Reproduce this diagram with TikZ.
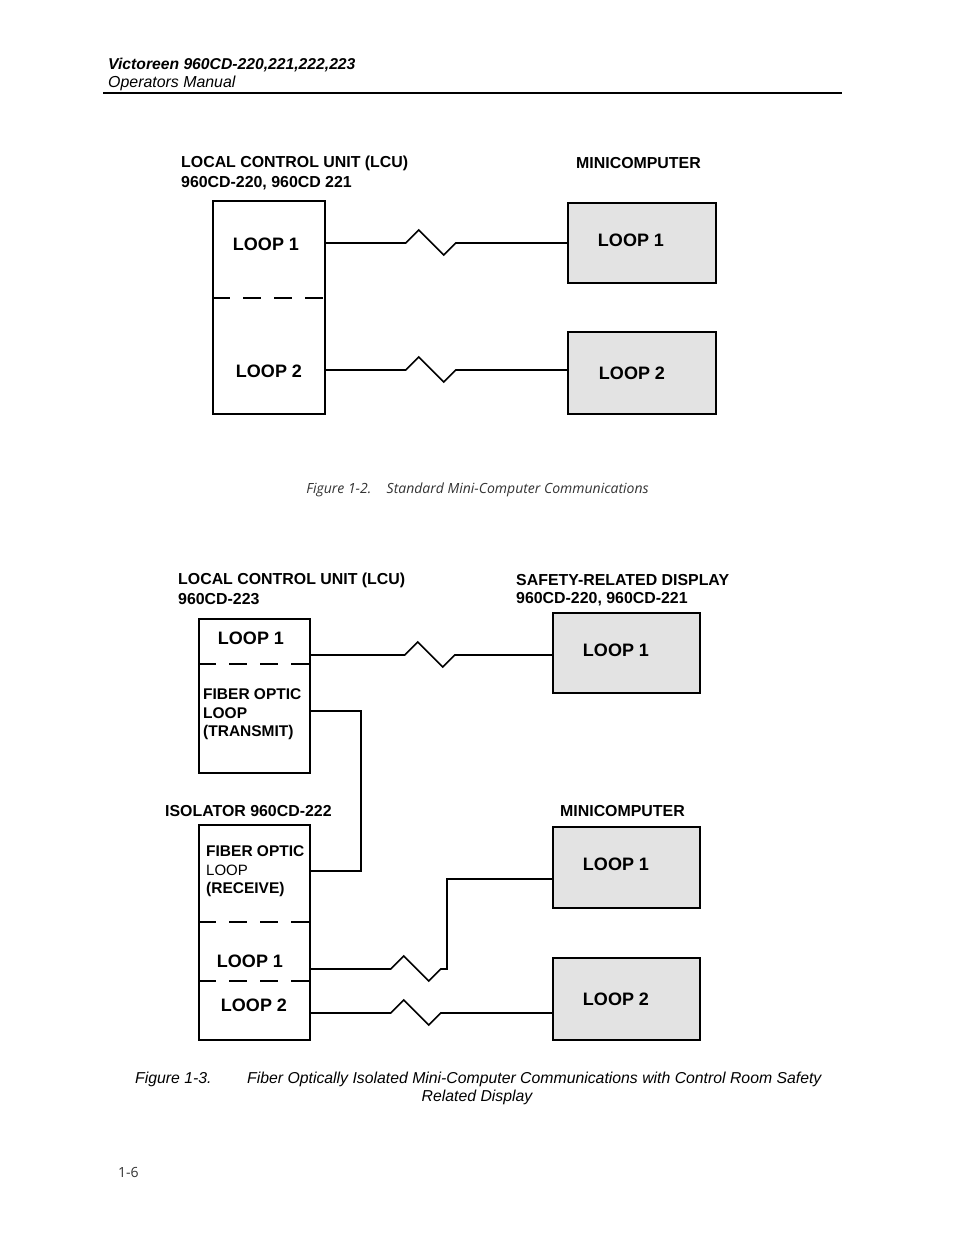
\documentclass[tikz,border=0pt]{standalone}
\usepackage{fontspec}
\setmainfont{Liberation Sans}
\newfontfamily\capfont{Open Sans}
\usetikzlibrary{calc}
\begin{document}
\begin{tikzpicture}[x=1pt,y=-1pt,
  box/.style={draw,line width=1.7pt,rectangle,inner sep=0pt},
  shade/.style={box,fill=black!11},
  wire/.style={line width=1.6pt,line join=miter},
  sep/.style={line width=1.6pt,dash pattern=on 18pt off 13pt},
  head/.style={font=\fontsize{15.9}{17}\selectfont\bfseries,anchor=west,inner sep=0pt},
  sub/.style={font=\fontsize{15.5}{17}\selectfont\bfseries,anchor=west,inner sep=0pt},
  loop/.style={font=\fontsize{18}{20}\selectfont\bfseries,inner sep=0pt},
]
\useasboundingbox (0,0) rectangle (954,1235);
\fill[white] (0,0) rectangle (954,1235);

% header
\node[anchor=west,inner sep=0pt,font=\fontsize{15.7}{17}\selectfont\bfseries\itshape] (hd1) at (108,65) {Victoreen 960CD-220,221,222,223};
\node[anchor=west,inner sep=0pt,font=\fontsize{15.9}{17}\selectfont\itshape] (hd2) at (108,83) {Operators Manual};
\draw[line width=1.2pt] (103,93) -- (842,93);

% ---------- Figure 1-2
\node[head] (t1) at (181,163) {LOCAL CONTROL UNIT (LCU)};
\node[head] (t2) at (181,183) {960CD-220, 960CD 221};
\node[head] (t3) at (576,163) {MINICOMPUTER};

\node[box,minimum width=112pt,minimum height=213pt] (lcuA) at (269,307.5) {};
\draw[sep] (lcuA.west |- 0,298) -- (lcuA.east |- 0,298);
\node[loop] (lcuA1) at (266,244) {LOOP 1};
\node[loop] (lcuA2) at (269,371) {LOOP 2};

\node[shade,minimum width=148pt,minimum height=80pt] (miniA1) at (642,243) {};
\node[loop] (miniA1t) at (631,240) {LOOP 1};
\node[shade,minimum width=148pt,minimum height=82pt] (miniA2) at (642,373) {};
\node[loop] (miniA2t) at (632,373) {LOOP 2};

\coordinate (a1) at (lcuA.east |- 0,243);
\coordinate (a2) at (lcuA.east |- 0,370);
\draw[wire] (a1) -- ++(80,0) -- ++(13,-13) -- ++(25,25) -- ++(12,-12) -- (miniA1.west);
\draw[wire] (a2) -- ++(80,0) -- ++(13,-13) -- ++(25,25) -- ++(12,-12) -- (miniA2.west |- a2);

\node[inner sep=0pt,text=black!80,font=\fontsize{14}{16}\selectfont\capfont\itshape] (cap1) at (477.5,490) {Figure 1-2.\hspace{1.1em}Standard Mini-Computer Communications};

% ---------- Figure 1-3
\node[head] (u1) at (178,580) {LOCAL CONTROL UNIT (LCU)};
\node[head] (u2) at (178,599) {960CD-223};
\node[head] (u3) at (516,580) {SAFETY-RELATED DISPLAY};
\node[head] (u4) at (516,599) {960CD-220, 960CD-221};

\node[box,minimum width=111pt,minimum height=154pt] (lcuB) at (254.5,696) {};
\draw[sep] (lcuB.west |- 0,664) -- (lcuB.east |- 0,664);
\node[loop] (lcuB1) at (251,638) {LOOP 1};
\node[sub] (fo1) at (203,694) {FIBER OPTIC};
\node[sub] (fo2) at (203,713) {LOOP};
\node[sub] (fo3) at (203,732) {(TRANSMIT)};

\node[shade,minimum width=147pt,minimum height=80pt] (safe) at (626.5,653) {};
\node[loop] (safet) at (616,650) {LOOP 1};

\coordinate (b1) at (lcuB.east |- 0,655);
\draw[wire] (b1) -- ++(94,0) -- ++(13,-13) -- ++(25,25) -- ++(12,-12) -- (safe.west |- b1);

\node[head] (iso) at (165,811) {ISOLATOR 960CD-222};
\node[head] (u5) at (560,811) {MINICOMPUTER};

\node[box,minimum width=111pt,minimum height=215pt] (isoB) at (254.5,932.5) {};
\draw[sep] (isoB.west |- 0,922) -- (isoB.east |- 0,922);
\draw[sep] (isoB.west |- 0,981) -- (isoB.east |- 0,981);
\node[sub] (fr1) at (206,851) {FIBER OPTIC};
\node[sub,font=\fontsize{15}{17}\selectfont] (fr2) at (206,870) {LOOP};
\node[sub] (fr3) at (206,889) {(RECEIVE)};
\node[loop] (isoL1t) at (250,961) {LOOP 1};
\node[loop] (isoL2t) at (254,1005) {LOOP 2};

\coordinate (f1) at (lcuB.east |- 0,711);
\coordinate (f2) at (isoB.east |- 0,871);
\draw[wire] (f1) -| (361,790) |- (f2);

\node[shade,minimum width=147pt,minimum height=81pt] (miniC1) at (626.5,867.5) {};
\node[loop] (miniC1t) at (616,864) {LOOP 1};
\node[shade,minimum width=147pt,minimum height=82pt] (miniC2) at (626.5,999) {};
\node[loop] (miniC2t) at (616,999) {LOOP 2};

\coordinate (c1) at (isoB.east |- 0,969);
\coordinate (c2) at (isoB.east |- 0,1013);
\coordinate (c1top) at (447,879);
\draw[wire] (c1) -- ++(80,0) -- ++(13,-13) -- ++(25,25) -- ++(12,-12) -- (c1top |- c1) -- (c1top) -- (miniC1.west |- c1top);
\draw[wire] (c2) -- ++(80,0) -- ++(13,-13) -- ++(25,25) -- ++(12,-12) -- (miniC2.west |- c2);

\node[anchor=west,inner sep=0pt,font=\fontsize{15.8}{17}\selectfont\itshape] (cap2a) at (135,1079) {Figure 1-3.};
\node[anchor=west,inner sep=0pt,font=\fontsize{15.8}{17}\selectfont\itshape] (cap2b) at (247,1079) {Fiber Optically Isolated Mini-Computer Communications with Control Room Safety};
\node[inner sep=0pt,font=\fontsize{15.8}{17}\selectfont\itshape] (cap2c) at (477,1097) {Related Display};

\node[anchor=west,inner sep=0pt,text=black!80,font=\fontsize{14}{16}\selectfont\capfont] (pg) at (118,1172) {1-6};
\end{tikzpicture}
\end{document}
